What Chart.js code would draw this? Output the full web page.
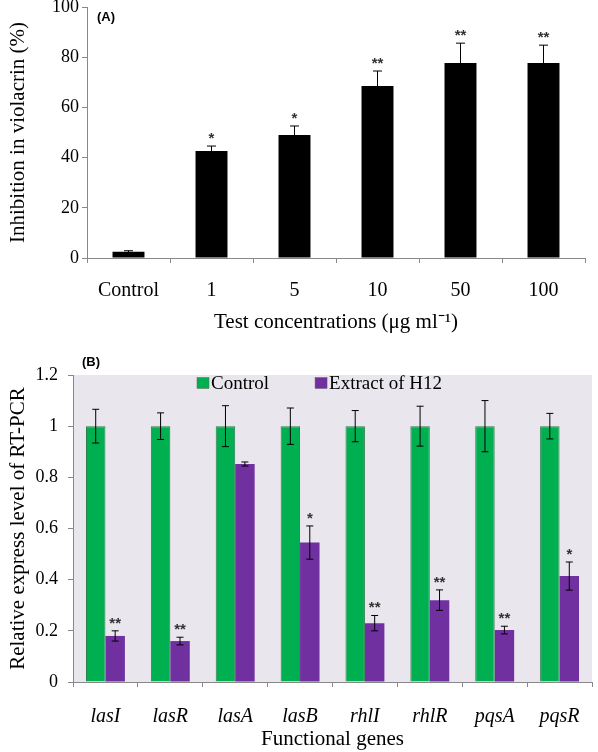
<!DOCTYPE html>
<html>
<head>
<meta charset="utf-8">
<script src="https://cdn.jsdelivr.net/npm/chart.js@4.4.1/dist/chart.umd.min.js"></script>
<style>
  body { margin: 0; background: #fff; }
  #wrap { position: relative; width: 598px; height: 752px; }
  #boxA { position: absolute; left: 0; top: 0; width: 598px; height: 335px; }
  #boxB { position: absolute; left: 0; top: 335px; width: 598px; height: 417px; }
  .panel { position: absolute; font: bold 13px "Liberation Sans", Arial, sans-serif; color: #000; }
</style>
</head>
<body>
<div id="wrap">
  <div id="boxA"><canvas id="chartA"></canvas></div>
  <div id="boxB"><canvas id="chartB"></canvas></div>
  <div class="panel" style="left:97px; top:9px;">(A)</div>
  <div class="panel" style="left:82px; top:354px;">(B)</div>
</div>
<script>
// --- datos panel A ---
const concentraciones = ['Control', '1', '5', '10', '50', '100'];
const inhibicion = [2.5, 42.6, 49, 68.5, 77.7, 77.7];
const inhibicionErr = [0.4, 2, 3.6, 6, 7.9, 7.1];
const estrellasA = ['', '*', '*', '**', '**', '**'];

// --- datos panel B ---
const genes = ['lasI', 'lasR', 'lasA', 'lasB', 'rhlI', 'rhlR', 'pqsA', 'pqsR'];
const controlVals = [1, 1, 1, 1, 1, 1, 1, 1];
const controlErr = [0.066, 0.052, 0.08, 0.071, 0.061, 0.078, 0.1, 0.05];
const extractoVals = [0.18, 0.16, 0.852, 0.545, 0.23, 0.32, 0.203, 0.414];
const extractoErr = [0.02, 0.015, 0.008, 0.065, 0.03, 0.04, 0.015, 0.055];
const estrellasB = ['**', '**', '', '*', '**', '**', '**', '*'];

const serif = '"Liberation Serif", "Times New Roman", serif';
const ejeGris = '#888888';

// barras de error + asteriscos
const errorBars = {
  id: 'errorBars',
  afterDatasetsDraw(chart) {
    const ctx = chart.ctx;
    const y = chart.scales.y;
    chart.data.datasets.forEach((ds, i) => {
      if (!ds.errores) return;
      const meta = chart.getDatasetMeta(i);
      meta.data.forEach((bar, j) => {
        const v = ds.data[j], e = ds.errores[j];
        const top = y.getPixelForValue(v + e);
        const bot = y.getPixelForValue(v - e);
        const cap = ds.cap || 3.5;
        ctx.save();
        ctx.strokeStyle = '#000';
        ctx.lineWidth = 1;
        ctx.beginPath();
        ctx.moveTo(bar.x, top); ctx.lineTo(bar.x, bot);
        ctx.moveTo(bar.x - cap, top); ctx.lineTo(bar.x + cap, top);
        ctx.moveTo(bar.x - cap, bot); ctx.lineTo(bar.x + cap, bot);
        ctx.stroke();
        if (ds.estrellas && ds.estrellas[j]) {
          ctx.fillStyle = '#333';
          ctx.font = 'bold 15px "Liberation Sans", Arial, sans-serif';
          ctx.textAlign = 'center';
          ctx.textBaseline = 'alphabetic';
          ctx.fillText(ds.estrellas[j], bar.x, top - 3);
        }
        ctx.restore();
      });
    });
  }
};

// fondo gris del area del grafico B
const fondoArea = {
  id: 'fondoArea',
  beforeDraw(chart, args, opts) {
    if (!opts.color) return;
    const a = chart.chartArea;
    chart.ctx.save();
    chart.ctx.fillStyle = opts.color;
    chart.ctx.fillRect(a.left, a.top, a.right - a.left, a.bottom - a.top);
    chart.ctx.restore();
  }
};

// leyenda dentro del area (a partir de los datasets)
const leyendaInterna = {
  id: 'leyendaInterna',
  afterDraw(chart, args, opts) {
    if (!opts.display) return;
    const ctx = chart.ctx;
    const a = chart.chartArea;
    let x = a.left + opts.offsetX;
    const yc = a.top + opts.offsetY;
    ctx.save();
    ctx.font = '19px ' + serif;
    ctx.textBaseline = 'middle';
    ctx.textAlign = 'left';
    chart.data.datasets.forEach(ds => {
      ctx.fillStyle = ds.backgroundColor;
      ctx.fillRect(x, yc - 5.5, 12, 11);
      ctx.strokeStyle = '#666';
      ctx.lineWidth = 0.5;
      ctx.strokeRect(x, yc - 5.5, 12, 11);
      ctx.fillStyle = '#000';
      ctx.fillText(ds.label, x + 14, yc + 1);
      x += 14 + ctx.measureText(ds.label).width + opts.gap;
    });
    ctx.restore();
  }
};

Chart.register(errorBars, fondoArea, leyendaInterna);

// === Panel A ===
new Chart(document.getElementById('chartA'), {
  type: 'bar',
  data: {
    labels: concentraciones,
    datasets: [{
      data: inhibicion,
      errores: inhibicionErr,
      estrellas: estrellasA,
      cap: 4.5,
      backgroundColor: '#000',
      categoryPercentage: 1,
      barPercentage: 0.385
    }]
  },
  options: {
    responsive: true, maintainAspectRatio: false, animation: false,
    layout: { padding: { left: 0, right: 13, top: 7, bottom: 0 } },
    plugins: { legend: { display: false }, tooltip: { enabled: false } },
    scales: {
      x: {
        afterFit: s => { s.height = 77; },
        grid: { drawOnChartArea: false, tickLength: 5, color: ejeGris },
        border: { color: ejeGris },
        ticks: { color: '#000', font: { family: serif, size: 20 }, padding: 16 },
        title: { display: true, text: 'Test concentrations (\u03bcg ml\u207b\u00b9)', color: '#000',
                 font: { family: serif, size: 21 }, padding: { top: 0, bottom: 0 } }
      },
      y: {
        min: 0, max: 100,
        afterFit: s => { s.width = 87; s.paddingTop = 0; s.paddingBottom = 0; },
        grid: { drawOnChartArea: false, tickLength: 5, color: ejeGris },
        border: { color: ejeGris },
        ticks: { stepSize: 20, color: '#000', font: { family: serif, size: 18 }, padding: 3 },
        title: { display: true, text: 'Inhibition in violacrin (%)', color: '#000',
                 font: { family: serif, size: 21 }, padding: { top: 6, bottom: 0 } }
      }
    }
  }
});

// === Panel B ===
new Chart(document.getElementById('chartB'), {
  type: 'bar',
  data: {
    labels: genes,
    datasets: [{
      label: 'Control',
      data: controlVals,
      errores: controlErr,
      backgroundColor: '#00B050',
      borderColor: '#2D7F50',
      borderWidth: 1,
      categoryPercentage: 0.6,
      barPercentage: 1
    }, {
      label: 'Extract of H12',
      data: extractoVals,
      errores: extractoErr,
      estrellas: estrellasB,
      backgroundColor: '#7030A0',
      categoryPercentage: 0.6,
      barPercentage: 1
    }]
  },
  options: {
    responsive: true, maintainAspectRatio: false, animation: false,
    layout: { padding: { left: 0, right: 6, top: 40, bottom: 0 } },
    plugins: {
      fondoArea: { color: '#E9E6EE' },
      tooltip: { enabled: false },
      legend: { display: false },
      leyendaInterna: { display: true, offsetX: 124, offsetY: 8, gap: 46 }
    },
    scales: {
      x: {
        afterFit: s => { s.height = 70; },
        grid: { drawOnChartArea: false, tickLength: 5, color: ejeGris },
        border: { color: ejeGris },
        ticks: { color: '#000', font: { family: serif, size: 20, style: 'italic' }, padding: 18 },
        title: { display: true, text: 'Functional genes', color: '#000',
                 font: { family: serif, size: 21 }, padding: { top: 0, bottom: 0 } }
      },
      y: {
        min: 0, max: 1.2,
        afterFit: s => { s.width = 73; s.paddingTop = 0; s.paddingBottom = 0; },
        grid: { drawOnChartArea: false, tickLength: 5, color: ejeGris },
        border: { color: ejeGris },
        ticks: {
          stepSize: 0.2, color: '#000', font: { family: serif, size: 18 }, padding: 10,
          callback: v => String(Number(v.toFixed(1)))
        },
        title: { display: true, text: 'Relative express level of RT-PCR', color: '#000',
                 font: { family: serif, size: 21 }, padding: { top: 6, bottom: 0 } }
      }
    }
  }
});
</script>
</body>
</html>
